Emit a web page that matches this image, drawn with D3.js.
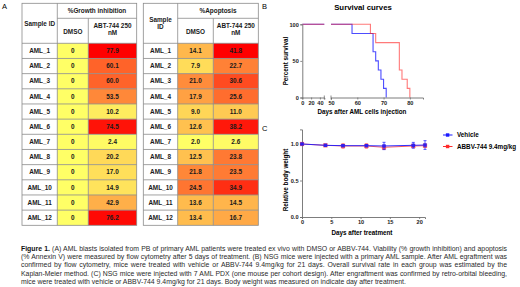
<!DOCTYPE html>
<html>
<head>
<meta charset="utf-8">
<script src="https://cdn.jsdelivr.net/npm/d3@7"></script>
<style>
body { margin: 0; background: #fff; }
svg text { font-family: Arial, "Liberation Sans", sans-serif; }
</style>
</head>
<body>
<div id="container"></div>
<script>
// Tables (panel A)
const samples = ["AML_1", "AML_2", "AML_3", "AML_4", "AML_5", "AML_6",
                 "AML_7", "AML_8", "AML_9", "AML_10", "AML_11", "AML_12"];
const growthDMSO = [0, 0, 0, 0, 0, 0, 0, 0, 0, 0, 0, 0];
const growthABT = [77.9, 60.1, 60.0, 53.5, 10.2, 74.5, 2.4, 20.2, 17.0, 14.9, 42.9, 76.2];
const apoDMSO = [14.1, 7.9, 21.0, 17.9, 9.0, 12.6, 2.0, 12.5, 21.8, 24.5, 13.6, 13.4];
const apoABT = [41.8, 22.7, 30.6, 25.6, 11.0, 38.2, 2.6, 23.8, 23.5, 34.9, 14.5, 16.7];

// Survival curves (panel B), Kaplan-Meier steps
const vehTime = [0, 58, 66, 67, 68, 69, 70, 71];
const vehSurv = [100, 87.5, 62.5, 50, 37.5, 25, 12.5, 0];
const abbvTime = [0, 65, 67, 76, 77, 79, 80];
const abbvSurv = [100, 87.5, 75, 37.5, 25, 12.5, 0];
const survTicksA = [0, 20, 40];
const survTicksB = [50, 60, 70, 80];
const survYTicks = [0, 50, 100];

// Body weight (panel C)
const bwDays = [0, 4, 7, 11, 14, 19, 21];
const vehWeight = [1.0, 0.982, 0.977, 0.977, 0.973, 0.982, 0.986];
const vehErr = [0.004, 0.006, 0.01, 0.01, 0.05, 0.04, 0.06];
const abbvWeight = [1.0, 0.982, 0.973, 0.973, 0.955, 0.973, 0.977];
const abbvErr = [0.008, 0.012, 0.03, 0.03, 0.03, 0.02, 0.02];
const bwXTicks = [0, 5, 10, 15, 20];
const bwYTicks = [0, 0.5, 1.0];

const captionLines = [
  ["Figure 1.", " (A) AML blasts isolated from PB of primary AML patients were treated ex vivo with DMSO or ABBV-744. Viability (% growth inhibition) and apoptosis"],
  ["", "(% Annexin V) were measured by flow cytometry after 5 days of treatment. (B) NSG mice were injected with a primary AML sample. After AML egraftment was"],
  ["", "confirmed by flow cytometry, mice were treated with vehicle or ABBV-744 9.4mg/kg for 21 days. Overall survival rate in each group was estimated by the"],
  ["", "Kaplan-Meier method. (C) NSG mice were injected with 7 AML PDX (one mouse per cohort design). After engraftment was confirmed by retro-orbital bleeding,"],
  ["", "mice were treated with vehicle or ABBV-744 9.4mg/kg for 21 days. Body weight was measured on indicate day after treatment."]
];

const width = 520;
const height = 287;

const svg = d3.select("#container").append("svg")
    .attr("width", width)
    .attr("height", height);

// Panel letters
svg.append("text").attr("x", 2).attr("y", 9).text("A").style("font-size", "7.5px");
svg.append("text").attr("x", 262).attr("y", 9).text("B").style("font-size", "7.5px");
svg.append("text").attr("x", 262).attr("y", 131).text("C").style("font-size", "7.5px");

// ---------- Tables ----------
const rowY = d3.scaleBand().domain(samples).range([43.3, 225.3]);
const gridColor = "#8a8a8a";

function heatScale(values, midValues) {
    return d3.scaleLinear()
        .domain([d3.min(values), d3.median(midValues), d3.max(values)])
        .range(["#ffff66", "#ffa545", "#ff0000"]);
}

function drawTable(x0, colW, title, sampleHead, dmso, abt, color, fmtDmso) {
    const g = svg.append("g");
    const xs = [x0, x0 + colW[0], x0 + colW[0] + colW[1], x0 + colW[0] + colW[1] + colW[2]];
    const top = 3.3, mid = 18.3, bot = 43.3;

    g.append("rect").attr("x", xs[0]).attr("y", top)
        .attr("width", xs[3] - xs[0]).attr("height", bot - top).attr("fill", "#fff");

    // cells
    samples.forEach((s, i) => {
        const y = rowY(s), h = rowY.bandwidth();
        g.append("rect").attr("x", xs[0]).attr("y", y).attr("width", colW[0]).attr("height", h).attr("fill", "#fff");
        g.append("rect").attr("x", xs[1]).attr("y", y).attr("width", colW[1]).attr("height", h).attr("fill", color(dmso[i]));
        g.append("rect").attr("x", xs[2]).attr("y", y).attr("width", colW[2]).attr("height", h).attr("fill", color(abt[i]));
        const ty = y + h / 2 + 2.2;
        g.append("text").attr("x", (xs[0] + xs[1]) / 2).attr("y", ty).text(s);
        g.append("text").attr("x", (xs[1] + xs[2]) / 2).attr("y", ty).text(fmtDmso(dmso[i]));
        g.append("text").attr("x", (xs[2] + xs[3]) / 2).attr("y", ty).text(d3.format(".1f")(abt[i]));
    });

    // grid lines
    samples.forEach(s => {
        g.append("line").attr("x1", xs[0]).attr("x2", xs[3])
            .attr("y1", rowY(s)).attr("y2", rowY(s));
    });
    g.append("line").attr("x1", xs[1]).attr("x2", xs[3]).attr("y1", mid).attr("y2", mid);
    g.append("line").attr("x1", xs[1]).attr("x2", xs[1]).attr("y1", top).attr("y2", rowY.range()[1]);
    g.append("line").attr("x1", xs[2]).attr("x2", xs[2]).attr("y1", mid).attr("y2", rowY.range()[1]);
    g.append("rect").attr("x", xs[0]).attr("y", top)
        .attr("width", xs[3] - xs[0]).attr("height", rowY.range()[1] - top)
        .attr("fill", "none");
    g.selectAll("line, rect[fill=none]").attr("stroke", gridColor).attr("stroke-width", 0.8);

    // headers
    g.append("text").attr("x", (xs[1] + xs[3]) / 2).attr("y", 13).text(title);
    const sy = sampleHead.length === 1 ? 26 : 22;
    sampleHead.forEach((t, k) => {
        g.append("text").attr("x", (xs[0] + xs[1]) / 2).attr("y", sy + k * 6.5).text(t);
    });
    g.append("text").attr("x", (xs[1] + xs[2]) / 2).attr("y", 34).text("DMSO");
    g.append("text").attr("x", (xs[2] + xs[3]) / 2).attr("y", 27.5).text("ABT-744 250");
    g.append("text").attr("x", (xs[2] + xs[3]) / 2).attr("y", 34.5).text("nM");

    g.selectAll("text")
        .attr("text-anchor", "middle")
        .style("font-size", "6.4px")
        .style("font-weight", "bold")
        .attr("fill", "#1a1a1a");
}

const growthColor = heatScale(growthDMSO.concat(growthABT), growthABT);
const apoColor = heatScale(apoDMSO.concat(apoABT), apoDMSO.concat(apoABT));

drawTable(22, [35.3, 31, 48.4], "%Growth inhibition", ["Sample ID"],
          growthDMSO, growthABT, growthColor, d => String(d));
drawTable(143.3, [34.4, 35.6, 45], "%Apoptosis", ["Sample", "ID"],
          apoDMSO, apoABT, apoColor, d => d3.format(".1f")(d));

// ---------- Panel B: survival ----------
const axisColor = "#6e6e6e";
const xA = d3.scaleLinear().domain([0, 50]).range([302.3, 324.3]);
const xB = d3.scaleLinear().domain([50, 85]).range([331, 423]);
const yS = d3.scaleLinear().domain([0, 100]).range([97.5, 24.3]);

svg.append("text").attr("x", 363).attr("y", 9.5).attr("text-anchor", "middle")
    .text("Survival curves").style("font-size", "7.8px").style("font-weight", "bold");

const defs = svg.append("defs");
defs.append("clipPath").attr("id", "clipA").append("rect")
    .attr("x", 300).attr("y", 15).attr("width", 24.3).attr("height", 90);
defs.append("clipPath").attr("id", "clipB").append("rect")
    .attr("x", 331).attr("y", 15).attr("width", 100).attr("height", 90);

function survPath(xs, time, surv) {
    const pts = time.map((t, i) => [t, surv[i]]);
    return d3.line().x(d => xs(d[0])).y(d => yS(d[1])).curve(d3.curveStepAfter)(pts);
}

[["clipA", xA], ["clipB", xB]].forEach(([clip, xs]) => {
    const g = svg.append("g").attr("clip-path", `url(#${clip})`);
    g.append("path").attr("d", survPath(xs, vehTime, vehSurv))
        .attr("fill", "none").attr("stroke", "#2020ff").attr("stroke-width", 1.1).attr("opacity", 0.8);
    g.append("path").attr("d", survPath(xs, abbvTime, abbvSurv))
        .attr("fill", "none").attr("stroke", "#ff2020").attr("stroke-width", 1.1).attr("opacity", 0.6);
});

const gyS = svg.append("g").attr("transform", "translate(302.3,0)")
    .call(d3.axisLeft(yS).tickValues(survYTicks).tickSize(2).tickPadding(1.5));
const gxA = svg.append("g").attr("transform", "translate(0,97.5)")
    .call(d3.axisBottom(xA).tickValues(survTicksA).tickSize(2).tickPadding(1.5));
const gxB = svg.append("g").attr("transform", "translate(0,97.5)")
    .call(d3.axisBottom(xB).tickValues(survTicksB).tickSize(2).tickPadding(1.5));
// break marks
[324.3, 331].forEach(x => {
    svg.append("line").attr("x1", x).attr("x2", x).attr("y1", 95.5).attr("y2", 99.5)
        .attr("stroke", axisColor).attr("stroke-width", 0.8);
});

svg.append("text").attr("x", 362).attr("y", 113.5).attr("text-anchor", "middle")
    .text("Days after AML cells injection").style("font-size", "6.3px").style("font-weight", "bold");
svg.append("text").attr("transform", "translate(287.5,61) rotate(-90)").attr("text-anchor", "middle")
    .text("Percent survival").style("font-size", "6.3px").style("font-weight", "bold");

// ---------- Panel C: body weight ----------
const xC = d3.scaleLinear().domain([0, 21]).range([302, 425]);
const yC = d3.scaleLinear().domain([0, 1.2]).range([217, 129.4]);

const gyC = svg.append("g").attr("transform", "translate(302,0)")
    .call(d3.axisLeft(yC).tickValues(bwYTicks).tickFormat(d3.format(".1f")).tickSize(2).tickPadding(1.5));
const gxC = svg.append("g").attr("transform", "translate(0,217)")
    .call(d3.axisBottom(xC).tickValues(bwXTicks).tickSize(2).tickPadding(1.5));

[gyS, gxA, gxB, gyC, gxC].forEach(g => {
    g.select(".domain").attr("stroke", axisColor).attr("stroke-width", 0.9);
    g.selectAll(".tick line").attr("stroke", axisColor).attr("stroke-width", 0.8);
    g.selectAll(".tick text").style("font-size", "5.6px").style("font-weight", "bold")
        .attr("fill", "#222").style("font-family", "Arial, 'Liberation Sans', sans-serif");
});

svg.append("text").attr("x", 362).attr("y", 234.5).attr("text-anchor", "middle")
    .text("Days after treatment").style("font-size", "6.3px").style("font-weight", "bold");
svg.append("text").attr("transform", "translate(287.5,180) rotate(-90)").attr("text-anchor", "middle")
    .text("Relative body weight").style("font-size", "6.3px").style("font-weight", "bold");

function drawSeries(vals, errs, color, size, opacity) {
    const g = svg.append("g").attr("opacity", opacity);
    const pts = bwDays.map((d, i) => [d, vals[i], errs[i]]);
    g.append("path").attr("d", d3.line().x(d => xC(d[0])).y(d => yC(d[1]))(pts))
        .attr("fill", "none").attr("stroke", color).attr("stroke-width", 1);
    pts.forEach(p => {
        const x = xC(p[0]);
        g.append("line").attr("x1", x).attr("x2", x)
            .attr("y1", yC(p[1] - p[2])).attr("y2", yC(p[1] + p[2]))
            .attr("stroke", color).attr("stroke-width", 0.8);
        [p[1] - p[2], p[1] + p[2]].forEach(v => {
            g.append("line").attr("x1", x - 1.5).attr("x2", x + 1.5)
                .attr("y1", yC(v)).attr("y2", yC(v))
                .attr("stroke", color).attr("stroke-width", 0.8);
        });
        g.append("rect").attr("x", x - size / 2).attr("y", yC(p[1]) - size / 2)
            .attr("width", size).attr("height", size).attr("fill", color);
    });
}
drawSeries(abbvWeight, abbvErr, "#ff2a2a", 4.2, 0.75);
drawSeries(vehWeight, vehErr, "#1a1aff", 3.4, 0.9);

// Legend
const legend = svg.append("g");
[["Vehicle", "#1a1aff", 135], ["ABBV-744 9.4mg/kg", "#ff2a2a", 146.5]].forEach(([lab, col, y]) => {
    legend.append("line").attr("x1", 443).attr("x2", 452.5).attr("y1", y).attr("y2", y)
        .attr("stroke", col).attr("stroke-width", 1);
    legend.append("rect").attr("x", 445.9).attr("y", y - 1.7).attr("width", 3.4).attr("height", 3.4).attr("fill", col);
    legend.append("text").attr("x", 457).attr("y", y + 2.2).text(lab)
        .style("font-size", "6.3px").style("font-weight", "bold");
});

// ---------- Caption ----------
const capX = 21, capW = 486;
const capY = [250.5, 259, 267.3, 275.6, 284];
captionLines.forEach((parts, i) => {
    const t = svg.append("text").attr("x", capX).attr("y", capY[i])
        .style("font-size", "6.9px").attr("fill", "#2a2a2a");
    if (parts[0]) t.append("tspan").style("font-weight", "bold").attr("fill", "#111").text(parts[0]);
    t.append("tspan").text(parts[1]);
    if (i < captionLines.length - 1) {
        const len = t.node().getComputedTextLength();
        const spaces = (parts[0] + parts[1]).split(" ").length - 1;
        t.style("word-spacing", `${(capW - len) / spaces}px`);
    }
});
</script>
</body>
</html>
